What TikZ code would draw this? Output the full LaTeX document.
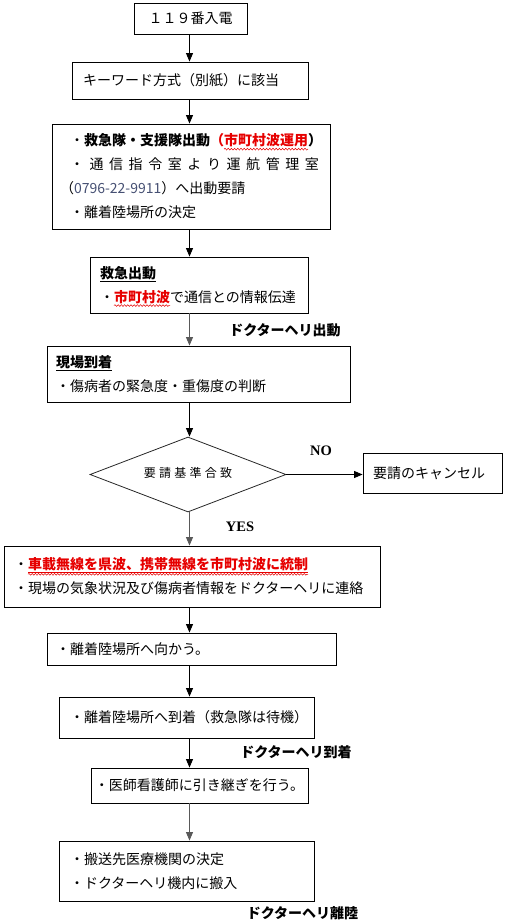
\documentclass[tikz,border=0pt]{standalone}
\usepackage{fontspec}
\usetikzlibrary{arrows.meta,shapes.geometric,decorations.pathmorphing}
\newfontfamily\jp{Noto Sans CJK JP}
\newfontfamily\ser{Liberation Serif}
\definecolor{wred}{RGB}{230,0,0}
\definecolor{numc}{RGB}{70,80,115}
\newsavebox\decobox
\tikzset{wavy/.style={draw=wred, line width=0.5pt, decorate,
  decoration={snake, amplitude=0.9pt, segment length=3.2pt}}}
% underline only
\newcommand\ulx[1]{\sbox\decobox{#1}\usebox\decobox\hspace*{-\wd\decobox}%
 \begin{tikzpicture}[baseline=0pt,x=1pt,y=1pt]
  \useasboundingbox (0,0) rectangle (\wd\decobox,0);
  \draw[line width=0.9pt] (0,-2.6) -- (\wd\decobox,-2.6);
 \end{tikzpicture}}
% wave only
\newcommand\wvx[1]{\sbox\decobox{#1}\usebox\decobox\hspace*{-\wd\decobox}%
 \begin{tikzpicture}[baseline=0pt,x=1pt,y=1pt]
  \useasboundingbox (0,0) rectangle (\wd\decobox,0);
  \path[wavy] (0,-3.2) -- (\wd\decobox,-3.2);
 \end{tikzpicture}}
% underline and wave
\newcommand\ulwv[1]{\sbox\decobox{#1}\usebox\decobox\hspace*{-\wd\decobox}%
 \begin{tikzpicture}[baseline=0pt,x=1pt,y=1pt]
  \useasboundingbox (0,0) rectangle (\wd\decobox,0);
  \draw[wred, line width=0.9pt] (0,-2.4) -- (\wd\decobox,-2.4);
  \path[wavy] (0,-4.4) -- (\wd\decobox,-4.4);
 \end{tikzpicture}}
\begin{document}
\begin{tikzpicture}[x=1pt,y=-1pt,
  box/.style={draw, line width=0.9pt, inner ysep=0pt, align=left,
    font=\jp\fontsize{14pt}{24pt}\selectfont},
  cbox/.style={box, align=center, inner xsep=0pt},
  arr/.style={-{Triangle[width=7pt,length=8.5pt]}, line width=0.9pt},
  garr/.style={arr, draw=black!65, fill=black!65},
  lab/.style={font=\jp\bfseries\fontsize{14pt}{16pt}\selectfont, inner sep=0pt},
  yn/.style={font=\ser\bfseries\fontsize{14.5pt}{16pt}\selectfont, inner sep=0pt}]
\useasboundingbox (0,0) rectangle (506,923);
\coordinate (ax) at (189.5,0);

\node[cbox, minimum width=113, minimum height=31] (b1) at (190.5,18.5) {１１９番入電};
\node[box, text width=214, inner xsep=11, minimum height=37] (b2) at (190,80.5) {キーワード方式（別紙）に該当};
\node[box, text width=242, inner xsep=18, minimum height=105] (b3) at (191,176.5)
 {・{\bfseries 救急隊・支援隊出動{\color{wred}（\wvx{市町村波運用}}）}\\
  \makebox[249pt][s]{・\hfill 通\hfill 信\hfill 指\hfill 令\hfill 室\hfill よ\hfill り\hfill 運\hfill 航\hfill 管\hfill 理\hfill 室}\\
  \hspace*{-10pt}（{\color{numc}0796-22-9911}）へ出動要請\\
  ・離着陸場所の決定};
\node[box, text width=198, inner xsep=10, minimum height=56] (b4) at (199,285)
 {{\bfseries\ulx{救急出動}}\\
  ・{\color{wred}\bfseries\wvx{市町村波}}で通信との情報伝達};
\node[box, text width=285, inner xsep=9, minimum height=56] (b5) at (198.5,374)
 {{\bfseries\ulx{現場到着}}\\
  ・傷病者の緊急度・重傷度の判断};
\node[diamond, draw=black!85, line width=0.8pt, inner sep=0pt, aspect=2.6,
  minimum width=196, minimum height=75,
  font=\jp\fontsize{12pt}{14pt}\selectfont\addfontfeature{LetterSpace=27}] (dm) at (188,474.5)
 {\raisebox{5pt}{要請基準合致}};
\node[box, text width=119, inner xsep=10, minimum height=40] (cn) at (432.5,473) {要請のキャンセル};
\node[box, text width=356, inner xsep=10, minimum height=61] (b6) at (192,576.5)
 {・{\color{wred}\bfseries\ulwv{車載無線を県波、携帯無線を市町村波に統制}}\\
  ・現場の気象状況及び傷病者情報をドクターヘリに連絡};
\node[box, text width=271, inner xsep=9, minimum height=32] (b7) at (191.5,649) {・離着陸場所へ向かう。};
\node[box, text width=233, inner xsep=11, minimum height=41] (b8) at (186.5,717.5) {・離着陸場所へ到着（救急隊は待機）};
\node[cbox, minimum width=217, minimum height=35] (b9) at (199.5,785.5) {・医師看護師に引き継ぎを行う。};
\node[box, text width=233, inner xsep=11, minimum height=60] (b10) at (186.5,871)
 {・搬送先医療機関の決定\\
  ・ドクターヘリ機内に搬入};

\node[lab] (l1) at (285,330) {ドクターヘリ出動};
\node[lab] (l2) at (296,752) {ドクターヘリ到着};
\node[lab] (l3) at (302.5,913) {ドクターヘリ離陸};
\node[yn] (no) at (321,451) {NO};
\node[yn] (yes) at (240,527) {YES};

\draw[arr] (ax |- b1.south) -- (ax |- b2.north);
\draw[arr] (ax |- b2.south) -- (ax |- b3.north);
\draw[arr] (ax |- b3.south) -- (ax |- b4.north);
\draw[garr] (ax |- b4.south) -- (ax |- b5.north);
\draw[arr] (ax |- b5.south) -- (ax |- dm.north);
\draw[arr] (dm.east) -- (dm.east -| cn.west);
\draw[garr] (ax |- dm.south) -- (ax |- b6.north);
\draw[arr] (ax |- b6.south) -- (ax |- b7.north);
\draw[arr] (ax |- b7.south) -- (ax |- b8.north);
\draw[arr] (ax |- b8.south) -- (ax |- b9.north);
\draw[garr] (ax |- b9.south) -- (ax |- b10.north);
\end{tikzpicture}
\end{document}
